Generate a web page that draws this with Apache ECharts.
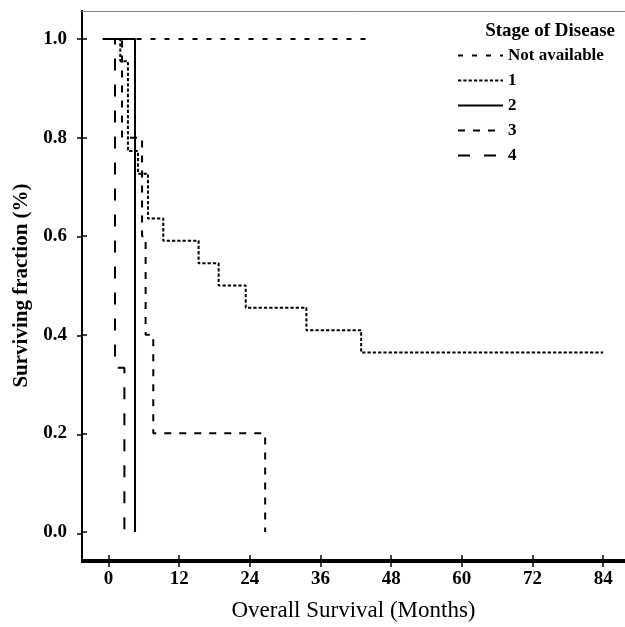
<!DOCTYPE html>
<html>
<head>
<meta charset="utf-8">
<script src="https://cdn.jsdelivr.net/npm/echarts@6/dist/echarts.min.js"></script>
<style>
  html, body { margin: 0; padding: 0; background: #fff; }
  #chart { width: 625px; height: 627px; }
</style>
</head>
<body>
<div id="chart"></div>
<script>
// axis ticks
let monthTicks = [0, 12, 24, 36, 48, 60, 72, 84];
let fractionTicks = [0, 0.2, 0.4, 0.6, 0.8, 1.0];
let stageNames = ["Not available", "1", "2", "3", "4"];

// Kaplan-Meier steps (month, surviving fraction)
let naMonths = [0, 44.2];
let naSurv = [1, 1];
let s1Months = [0, 2.0, 3.3, 5.0, 6.7, 9.3, 15.3, 18.7, 23.3, 33.6, 42.9, 84];
let s1Surv = [1.0, 0.955, 0.773, 0.727, 0.636, 0.591, 0.545, 0.5, 0.455, 0.409, 0.364, 0.364];
let s2Months = [-1, 4.5, 4.5];
let s2Surv = [1.0, 0.5, 0];
let s3Months = [0, 2.3, 5.7, 6.3, 7.6, 26.6];
let s3Surv = [1.0, 0.8, 0.6, 0.4, 0.2, 0];
let s4Months = [0, 1.1, 1.1, 2.7];
let s4Surv = [1.0, 0.667, 0.333, 0];

let allMonths = [naMonths, s1Months, s2Months, s3Months, s4Months];
let allSurv = [naSurv, s1Surv, s2Surv, s3Surv, s4Surv];
let dashes = [[5, 9], [3.3, 2], "solid", [7, 8], [12, 14]];

let serif = "Liberation Serif";
let xMin = -4.5, xMax = 87.7, yMin = -0.057, yMax = 1.057;

let series = [];
for (let i = 0; i < stageNames.length; i++) {
  let pts = [];
  for (let j = 0; j < allMonths[i].length; j++) {
    pts.push([allMonths[i][j], allSurv[i][j]]);
  }
  series.push({
    name: stageNames[i],
    type: "line",
    step: "end",
    symbol: "none",
    xAxisIndex: 0,
    yAxisIndex: 0,
    lineStyle: { color: "#000", width: 2, type: dashes[i], cap: "butt" },
    itemStyle: { color: "#000" },
    data: pts
  });
}

let myChart = echarts.init(document.getElementById("chart"));
let option = {
  animation: false,
  backgroundColor: "#fff",
  title: {
    text: "Stage of Disease",
    right: 5,
    top: 17,
    textStyle: { fontFamily: serif, fontWeight: "bold", fontSize: 19, color: "#000" }
  },
  legend: {
    data: stageNames,
    orient: "vertical",
    left: 452,
    top: 42,
    itemWidth: 45,
    itemHeight: 16,
    itemGap: 8,
    itemStyle: { opacity: 0 },
    textStyle: { fontFamily: serif, fontWeight: "bold", fontSize: 17, color: "#000" }
  },
  grid: [
    { left: 82, top: 11, right: 0, bottom: 65 },
    { left: 82, top: 11, right: 0, bottom: 65 }
  ],
  xAxis: [
    {
      type: "value", gridIndex: 0, position: "bottom", min: xMin, max: xMax,
      name: "Overall Survival (Months)",
      nameLocation: "middle",
      nameGap: 39,
      nameTextStyle: { fontFamily: serif, fontSize: 23, color: "#000" },
      axisLine: { onZero: false, lineStyle: { color: "#000", width: 2 } },
      axisTick: { inside: true, length: 5, customValues: monthTicks, lineStyle: { color: "#000", width: 1.5 } },
      axisLabel: {
        customValues: monthTicks, margin: 10,
        fontFamily: serif, fontWeight: "bold", fontSize: 19, color: "#000"
      },
      splitLine: { show: false }
    },
    {
      type: "value", gridIndex: 0, position: "top", min: xMin, max: xMax,
      axisLine: { onZero: false, lineStyle: { color: "#888", width: 1 } },
      axisTick: { show: false },
      axisLabel: { show: false },
      splitLine: { show: false }
    },
    {
      type: "value", gridIndex: 1, position: "bottom", min: xMin, max: xMax,
      axisLine: { onZero: false, lineStyle: { color: "#000", width: 2 } },
      axisTick: { length: 5, customValues: monthTicks, lineStyle: { color: "#000", width: 1.5 } },
      axisLabel: { show: false },
      splitLine: { show: false }
    }
  ],
  yAxis: [
    {
      type: "value", gridIndex: 0, position: "left", min: yMin, max: yMax,
      name: "Surviving fraction (%)",
      nameLocation: "middle",
      nameGap: 50,
      nameTextStyle: { fontFamily: serif, fontWeight: "bold", fontSize: 21, color: "#000" },
      axisLine: { onZero: false, lineStyle: { color: "#000", width: 2 } },
      axisTick: { inside: true, length: 5, customValues: fractionTicks, lineStyle: { color: "#000", width: 1.5 } },
      axisLabel: {
        customValues: fractionTicks, margin: 15,
        formatter: function (v) { return v.toFixed(1); },
        fontFamily: serif, fontWeight: "bold", fontSize: 19, color: "#000"
      },
      splitLine: { show: false }
    },
    {
      type: "value", gridIndex: 1, position: "left", min: yMin, max: yMax,
      axisLine: { onZero: false, lineStyle: { color: "#000", width: 2 } },
      axisTick: { length: 5, customValues: fractionTicks, lineStyle: { color: "#000", width: 1.5 } },
      axisLabel: { show: false },
      splitLine: { show: false }
    }
  ],
  series: series
};
myChart.setOption(option);
</script>
</body>
</html>
